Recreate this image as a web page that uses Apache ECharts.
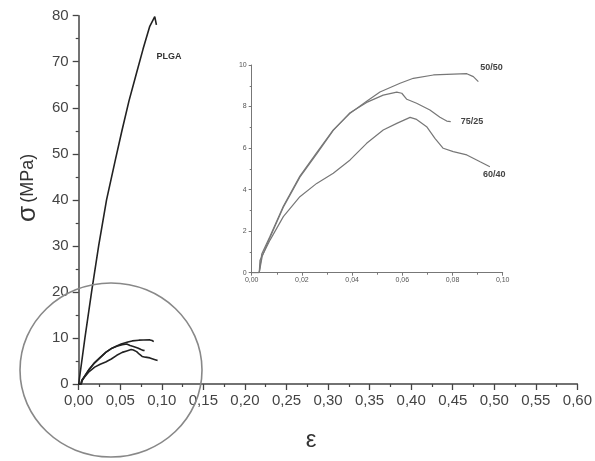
<!DOCTYPE html>
<html><head><meta charset="utf-8">
<script src="https://cdn.jsdelivr.net/npm/echarts@6/dist/echarts.min.js"></script>
<style>html,body{margin:0;padding:0;background:#fff}#c{width:595px;height:461px}</style>
</head><body><div id="c"></div>
<script>
// [strain, stress (MPa)]
const plga = [[0,0],[0.0075,10],[0.0155,20],[0.024,30],[0.0335,40],[0.0445,49],[0.052,55],[0.0605,61.5],[0.0695,67.5],[0.0775,72.8],[0.0855,77.7],[0.0915,79.8],[0.0935,78]];
const s5050 = [[0,0],[0.003,0],[0.004,0.9],[0.0073,1.75],[0.0126,3.2],[0.0192,4.65],[0.0259,5.78],[0.0325,6.88],[0.0392,7.68],[0.0458,8.25],[0.0511,8.7],[0.0591,9.12],[0.0644,9.36],[0.0724,9.52],[0.0777,9.55],[0.0857,9.58],[0.0883,9.44],[0.0903,9.2]];
const s7525 = [[0,0],[0.003,0],[0.0042,0.8],[0.0073,1.7],[0.0126,3.15],[0.0192,4.6],[0.0259,5.72],[0.0325,6.85],[0.0392,7.7],[0.0458,8.2],[0.0524,8.55],[0.0578,8.69],[0.0598,8.64],[0.0618,8.35],[0.0657,8.16],[0.071,7.83],[0.075,7.48],[0.0777,7.3],[0.0793,7.27]];
const s6040 = [[0,0],[0.003,0],[0.0033,0.6],[0.0073,1.57],[0.0126,2.7],[0.0192,3.66],[0.0259,4.3],[0.0325,4.79],[0.0392,5.43],[0.0458,6.23],[0.0524,6.87],[0.0578,7.19],[0.0631,7.48],[0.0657,7.38],[0.0697,7.03],[0.073,6.47],[0.0763,5.99],[0.0803,5.83],[0.0857,5.67],[0.091,5.34],[0.0949,5.1]];
const names = ['PLGA','50/50','75/25','60/40'];
const mainX = {min:0, max:0.60, interval:0.05};
const mainY = {min:0, max:80, interval:10};
const insetX = {min:0, max:0.10, interval:0.02};
const insetY = {min:0, max:10, interval:2};

const comma = (d) => (v) => v.toFixed(d).replace('.', ',');
const FONT = 'Liberation Sans';
const chart = echarts.init(document.getElementById('c'));
const lineBase = {type:'line', showSymbol:false, symbol:'none', smooth:false};
chart.setOption({
  animation:false,
  backgroundColor:'#fff',
  grid:[
    {left:78.7, right:14, top:15.7, bottom:77},
    {left:251.7, right:92.3, top:65, bottom:188.3}
  ],
  xAxis:[
    {gridIndex:0, type:'value', min:mainX.min, max:mainX.max, interval:mainX.interval,
     name:'ε', nameLocation:'middle', nameGap:44,
     nameTextStyle:{fontSize:24, color:'#333', fontFamily:FONT, padding:[0,34,0,0]},
     axisLine:{lineStyle:{color:'#444', width:1.5}},
     axisTick:{show:true, length:6, lineStyle:{color:'#444', width:1.3}},
     minorTick:{show:true, splitNumber:2, length:3, lineStyle:{color:'#444', width:1.2}},
     axisLabel:{formatter:comma(2), fontSize:15, color:'#444', fontFamily:FONT, margin:9},
     splitLine:{show:false}},
    {gridIndex:1, type:'value', min:insetX.min, max:insetX.max, interval:insetX.interval,
     axisLine:{lineStyle:{color:'#777', width:1}},
     axisTick:{show:true, length:3, lineStyle:{color:'#777'}},
     minorTick:{show:true, splitNumber:2, length:2, lineStyle:{color:'#777'}},
     axisLabel:{formatter:comma(2), fontSize:7, color:'#555', fontFamily:FONT, margin:4},
     splitLine:{show:false}}
  ],
  yAxis:[
    {gridIndex:0, type:'value', min:mainY.min, max:mainY.max, interval:mainY.interval,
     name:'{s|σ} {m|(MPa)}', nameLocation:'middle', nameRotate:90, nameGap:36,
     nameTextStyle:{fontFamily:FONT, color:'#333', padding:[0,0,0,24],
       rich:{s:{fontSize:26, fontFamily:FONT, color:'#333'}, m:{fontSize:18, fontFamily:FONT, color:'#333'}}},
     axisLine:{show:true, lineStyle:{color:'#444', width:1.5}},
     axisTick:{show:true, length:6, lineStyle:{color:'#444', width:1.3}},
     minorTick:{show:true, splitNumber:2, length:3, lineStyle:{color:'#444', width:1.2}},
     axisLabel:{fontSize:15, color:'#444', fontFamily:FONT, margin:10},
     splitLine:{show:false}},
    {gridIndex:1, type:'value', min:insetY.min, max:insetY.max, interval:insetY.interval,
     axisLine:{show:true, lineStyle:{color:'#777', width:1}},
     axisTick:{show:true, length:3, lineStyle:{color:'#777'}},
     minorTick:{show:true, splitNumber:2, length:2, lineStyle:{color:'#777'}},
     axisLabel:{fontSize:7, color:'#555', fontFamily:FONT, margin:5},
     splitLine:{show:false}}
  ],
  series:[
    Object.assign({}, lineBase, {name:names[0], xAxisIndex:0, yAxisIndex:0, data:plga,
      lineStyle:{color:'#222', width:1.6},
      endLabel:{show:true, formatter:names[0], fontSize:9, fontWeight:'bold', color:'#333', fontFamily:FONT, offset:[-8,32]}}),
    Object.assign({}, lineBase, {name:names[1]+' main', xAxisIndex:0, yAxisIndex:0, data:s5050, lineStyle:{color:'#222', width:1.6}}),
    Object.assign({}, lineBase, {name:names[2]+' main', xAxisIndex:0, yAxisIndex:0, data:s7525, lineStyle:{color:'#222', width:1.6}}),
    Object.assign({}, lineBase, {name:names[3]+' main', xAxisIndex:0, yAxisIndex:0, data:s6040, lineStyle:{color:'#222', width:1.6}}),
    Object.assign({}, lineBase, {name:names[1], xAxisIndex:1, yAxisIndex:1, data:s5050,
      lineStyle:{color:'#777', width:1.2},
      endLabel:{show:true, formatter:names[1], fontSize:9, fontWeight:'bold', color:'#444', fontFamily:FONT, offset:[-6,-14]}}),
    Object.assign({}, lineBase, {name:names[2], xAxisIndex:1, yAxisIndex:1, data:s7525,
      lineStyle:{color:'#777', width:1.2},
      endLabel:{show:true, formatter:names[2], fontSize:9, fontWeight:'bold', color:'#444', fontFamily:FONT, offset:[2,0]}}),
    Object.assign({}, lineBase, {name:names[3], xAxisIndex:1, yAxisIndex:1, data:s6040,
      lineStyle:{color:'#777', width:1.2},
      endLabel:{show:true, formatter:names[3], fontSize:9, fontWeight:'bold', color:'#444', fontFamily:FONT, offset:[-15,8]}})
  ],
  graphic:[
    {type:'ellipse', shape:{cx:111, cy:370, rx:91, ry:87}, style:{fill:null, stroke:'#888', lineWidth:1.6}, z:100}
  ]
});
</script></body></html>
